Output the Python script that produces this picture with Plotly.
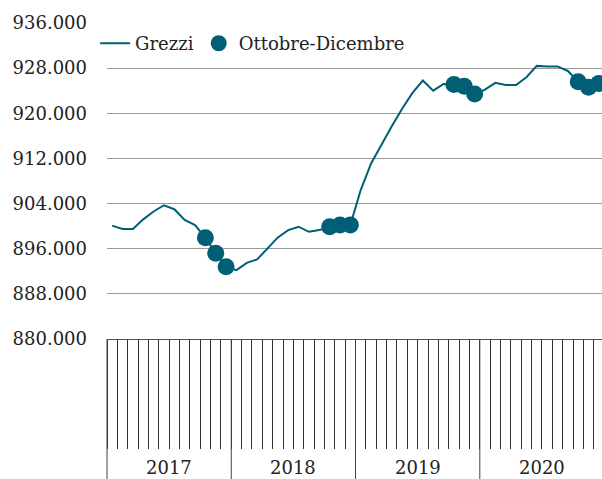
import plotly.graph_objects as go

years = ["2017", "2018", "2019", "2020"]
months_per_year = 12

grezzi = [
    900100, 899500, 899500, 901200, 902600, 903700, 903000, 901100, 900200, 897950, 895200, 892800,
    892200, 893500, 894100, 896100, 898000, 899300, 899900, 899000, 899300, 899900, 900200, 900200,
    906400, 911100, 914500, 917700, 920800, 923600, 925800, 924000, 925200, 925100, 924800, 923400,
    924200, 925400, 925000, 925000, 926400, 928400, 928300, 928300, 927500, 925600, 924600, 925300,
]
q4_months = [9, 10, 11]  # ottobre, novembre, dicembre (0-based)

y_ticks = [880000, 888000, 896000, 904000, 912000, 920000, 928000, 936000]
y_ticklabels = [f"{v:,}".replace(",", ".") for v in y_ticks]

n = len(grezzi)
x_idx = list(range(n))
q4_x = [i for i in x_idx if i % months_per_year in q4_months]
q4_y = [grezzi[i] for i in q4_x]

COLOR = "#015f75"
FONT = "DejaVu Serif"
x_range = [-0.5, n - 0.7]

fig = go.Figure()
fig.add_trace(go.Scatter(x=x_idx, y=grezzi, mode="lines", name="Grezzi",
                         line=dict(color=COLOR, width=2)))
fig.add_trace(go.Scatter(x=q4_x, y=q4_y, mode="markers", name="Ottobre-Dicembre",
                         marker=dict(color=COLOR, size=17)))

# year separators (full height below the axis)
shapes = []
for k in range(len(years) + 1):
    b = k * months_per_year - 0.5
    px = (b - x_range[0]) / (x_range[1] - x_range[0])
    if 0 <= px <= 1:
        shapes.append(dict(type="line", xref="paper", yref="paper", x0=px, x1=px,
                           y0=0, y1=-0.6, line=dict(color="#444", width=1)))

annotations = []
for k, yr in enumerate(years):
    annotations.append(dict(x=k * months_per_year + (months_per_year - 1) / 2, y=-0.445,
                            xref="x", yref="paper", text=yr, showarrow=False,
                            font=dict(family=FONT, size=18, color="#222"),
                            xanchor="center", yanchor="bottom"))

fig.update_layout(
    width=602, height=479,
    margin=dict(l=107, r=0, t=23, b=140, autoexpand=False),
    paper_bgcolor="white", plot_bgcolor="white",
    font=dict(family=FONT, size=18, color="#222"),
    showlegend=True,
    legend=dict(orientation="h", xref="container", x=0.158, xanchor="left",
                y=0.935, yanchor="middle",
                bgcolor="rgba(0,0,0,0)", font=dict(family=FONT, size=18, color="#222"),
                itemwidth=30, tracegroupgap=0),
    shapes=shapes,
    annotations=annotations,
)
fig.update_xaxes(range=x_range, tickmode="array", automargin=False,
                 tickvals=[i - 0.5 for i in range(n + 1)], showticklabels=False,
                 ticks="outside", ticklen=109, tickwidth=1, tickcolor="#333",
                 showgrid=False, zeroline=False, showline=True, linecolor="#555", linewidth=1)
fig.update_yaxes(range=[880000, 936000], tickmode="array", tickvals=y_ticks, automargin=False,
                 ticktext=y_ticklabels, showgrid=True, gridcolor="#9a9a9a", gridwidth=1,
                 zeroline=False, showline=False, ticks="", ticklabelstandoff=19,
                 tickfont=dict(family=FONT, size=18, color="#222"))

fig.write_html("out.html", config={"displayModeBar": False},
               post_script="document.body.style.margin='0';")
